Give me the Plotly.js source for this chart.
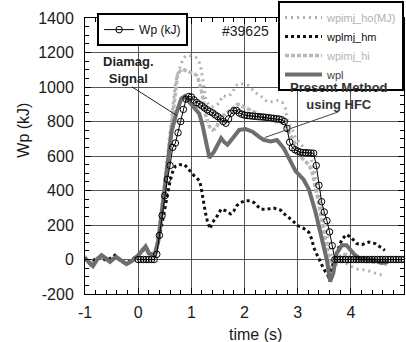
<!DOCTYPE html>
<html>
<head>
<meta charset="utf-8">
<script src="https://cdn.plot.ly/plotly-3.0.1.min.js"></script>
<style>html,body{margin:0;padding:0;background:#fff;}#chart{width:406px;height:342px;}</style>
</head>
<body>
<div id="chart"></div>
<script>
// Wp (kJ) diamagnetic signal
const wpT = [0.00,0.05,0.10,0.15,0.20,0.25,0.30,0.35,0.40,0.45,0.50,0.55,0.60,0.65,0.70,0.75,0.80,0.85,0.90,0.95,
  1.00,1.05,1.10,1.15,1.20,1.25,1.30,1.35,1.40,1.45,1.50,1.55,1.60,1.65,1.70,1.75,1.80,1.85,1.90,1.95,
  2.00,2.05,2.10,2.15,2.20,2.25,2.30,2.35,2.40,2.45,2.50,2.55,2.60,2.65,2.70,2.75,2.80,2.85,2.90,2.95,
  3.00,3.05,3.10,3.15,3.20,3.25,3.30,3.35,3.40,3.45,3.50,3.55,3.60,3.65,3.70,3.75,3.80,3.85,3.90,3.95,
  4.00,4.05,4.10,4.15,4.20,4.25,4.30,4.35,4.40,4.45,4.50,4.55,4.60,4.65,4.70,4.75,4.80,4.85,4.90,4.95,5.00];
const wpV = [0,0,0,0,0,0,0,30,140,255,370,465,545,650,675,735,800,870,930,945,
  942,925,910,900,890,878,868,858,850,838,828,815,800,790,815,848,862,864,850,842,
  837,835,833,831,830,828,827,826,824,822,820,818,816,814,810,800,760,680,648,636,
  628,622,620,619,618,617,616,545,430,335,275,225,160,80,0,0,0,0,0,0,
  0,0,0,0,0,0,0,0,0,0,0,0,0,0,0,0,0,0,0,0,0];

// wpimj_ho(MJ)
const hoT = [-1.0,-0.9,-0.8,-0.7,-0.6,-0.5,-0.4,-0.3,-0.2,-0.1,0.0,0.1,0.2,0.3,0.35,0.4,0.45,0.5,0.55,0.6,0.65,0.7,0.75,0.8,0.84,0.89,0.96,1.03,1.09,1.15,1.18,1.21,1.24,1.27,1.32,1.38,1.45,1.52,1.59,1.65,1.71,1.77,1.83,1.9,1.96,2.02,2.08,2.15,2.22,2.3,2.36,2.43,2.52,2.61,2.71,2.77,2.8,2.86,2.92,2.96,3.02,3.1,3.17,3.23,3.3,3.36,3.42,3.48,3.54,3.6,3.66,3.72,3.8,3.9,4.0,4.14,4.27,4.38,4.48,4.56,4.64];
const hoV = [20,-35,10,20,-10,5,15,-20,-25,0,30,70,40,30,80,190,330,470,610,760,900,1020,1080,1120,1160,1180,1182,1178,1170,1142,1110,1056,995,930,900,885,890,905,950,945,950,965,1005,1022,1018,1014,1008,985,965,950,930,913,915,922,912,874,810,775,741,703,680,655,630,600,540,440,340,250,160,70,-10,-30,-10,-20,-40,-57,-60,-70,-84,-88,-94];

// wplmj_hm
const hmT = [-1.0,-0.9,-0.8,-0.7,-0.6,-0.5,-0.44,-0.3,-0.2,-0.1,0.0,0.1,0.2,0.3,0.35,0.4,0.45,0.5,0.55,0.6,0.65,0.7,0.78,0.87,0.98,1.06,1.15,1.18,1.2,1.22,1.24,1.27,1.3,1.35,1.4,1.49,1.56,1.65,1.74,1.8,1.85,1.92,2.02,2.1,2.18,2.3,2.43,2.55,2.68,2.77,2.89,3.0,3.11,3.21,3.27,3.3,3.36,3.42,3.49,3.57,3.63,3.7,3.77,3.83,3.92,4.01,4.11,4.21,4.34,4.46,4.64];
const hmV = [10,-25,5,15,-5,10,25,-15,-20,0,25,55,35,30,70,130,210,286,374,454,510,540,550,550,512,483,458,426,387,349,298,264,225,178,215,254,292,282,264,282,311,330,340,340,330,292,292,298,286,258,229,197,181,158,115,72,30,-10,-55,-94,-60,10,70,116,145,126,92,86,101,92,53];

// wpimj_hi
const hiT = [-1.0,-0.9,-0.8,-0.7,-0.6,-0.5,-0.4,-0.3,-0.2,-0.1,0.0,0.1,0.2,0.3,0.35,0.4,0.45,0.5,0.55,0.6,0.65,0.7,0.74,0.78,0.84,0.9,0.99,1.06,1.11,1.15,1.21,1.24,1.27,1.34,1.4,1.46,1.52,1.56,1.65,1.77,1.87,2.02,2.15,2.21,2.3,2.4,2.5,2.58,2.74,2.8,2.88,2.96,3.02,3.08,3.15,3.21,3.27,3.33,3.4,3.46,3.52,3.57,3.62,3.66,3.72,3.8,3.9,4.0,4.1,4.2,4.35,4.5,4.62,4.7];
const hiV = [15,-30,5,15,-10,5,10,-15,-20,0,25,60,40,30,80,170,300,440,580,720,850,980,1070,1090,1104,1094,1085,1075,1065,1027,951,894,837,770,751,760,798,827,846,874,900,880,862,851,835,817,805,798,789,760,715,665,630,588,565,550,510,430,320,210,110,30,-40,-60,-20,20,30,10,-5,-10,-12,-15,-20,-33];

// wpl
const wplT = [-1.0,-0.92,-0.85,-0.77,-0.69,-0.6,-0.53,-0.46,-0.41,-0.32,-0.22,-0.15,-0.1,0.03,0.14,0.21,0.31,0.38,0.42,0.47,0.53,0.58,0.63,0.72,0.81,0.87,0.96,1.05,1.12,1.15,1.21,1.27,1.34,1.43,1.52,1.56,1.62,1.68,1.8,1.9,2.02,2.15,2.27,2.36,2.49,2.61,2.74,2.83,2.96,3.11,3.21,3.33,3.45,3.55,3.61,3.67,3.73,3.83,3.92,3.98,4.08,4.17,4.3,4.45,4.58,4.7];
const wplV = [6,-20,-38,0,25,5,-14,5,15,-5,-27,-15,-4,34,76,34,25,110,206,320,470,600,745,850,932,945,913,880,855,845,779,684,590,626,684,703,680,665,712,751,756,741,712,693,684,693,645,595,512,464,407,282,130,-4,-128,-80,34,82,82,63,25,6,0,-5,-20,-15];

const xTicks = [-1,0,1,2,3,4,5];
const yTicks = [-200,0,200,400,600,800,1000,1200,1400];

const FONT = 'Liberation Sans, Arial, Helvetica, sans-serif';

const traces = [
  {x: hiT, y: hiV, type:'scatter', mode:'lines', name:'<span style="color:#b4b4b4">wpimj_hi</span>',
   line:{color:'#b8b8b8', width:3.5, dash:'4px,2px'}, legend:'legend2', legendrank:3},
  {x: hoT, y: hoV, type:'scatter', mode:'lines', name:'<span style="color:#b0b0b0">wpimj_ho(MJ)</span>',
   line:{color:'#b0b0b0', width:3, dash:'2px,4px'}, legend:'legend2', legendrank:1},
  {x: hmT, y: hmV, type:'scatter', mode:'lines', name:'wplmj_hm',
   line:{color:'#111111', width:3, dash:'3px,3px'}, legend:'legend2', legendrank:2},
  {x: wplT, y: wplV, type:'scatter', mode:'lines', name:'<span style="color:#444">wpl</span>',
   line:{color:'#6e6e6e', width:4}, legend:'legend2', legendrank:4},
  {x: wpT, y: wpV, type:'scatter', mode:'lines+markers', name:'Wp (kJ)',
   line:{color:'#000', width:1}, marker:{symbol:'circle-open', size:6.5, color:'#000', line:{width:1, color:'#000'}},
   legend:'legend'}
];

const axisCommon = {
  showline:true, linecolor:'#000', linewidth:1, mirror:'ticks',
  ticks:'inside', ticklen:6, tickcolor:'#000', tickwidth:1,
  showgrid:true, gridcolor:'#555', gridwidth:1, zeroline:false,
  tickfont:{family:FONT, size:16, color:'#1a1a1a'}
};

const layout = {
  width:406, height:342,
  margin:{l:85, r:2, t:17, b:48},
  paper_bgcolor:'#fff', plot_bgcolor:'#fff',
  font:{family:FONT, color:'#1a1a1a'},
  xaxis: Object.assign({}, axisCommon, {
    range:[-1,5], tickvals:xTicks, ticktext:xTicks.map(String), ticklabelstandoff:4,
    minor:{dtick:0.2, tick0:0, ticks:'inside', ticklen:4, tickcolor:'#000', showgrid:false}
  }),
  yaxis: Object.assign({}, axisCommon, {
    range:[-200,1400], tickvals:yTicks, ticktext:yTicks.map(String), ticklabelstandoff:7,
    minor:{dtick:50, tick0:0, ticks:'inside', ticklen:4, tickcolor:'#000', showgrid:false}
  }),
  legend:{x:0.038, y:1.014, xanchor:'left', yanchor:'top', bgcolor:'#fff', bordercolor:'#000', borderwidth:2,
    font:{family:FONT, size:12, color:'#111'}, itemwidth:30, tracegroupgap:0},
  legend2:{x:0.605, y:1.058, xanchor:'left', yanchor:'top', bgcolor:'#fff', bordercolor:'#000', borderwidth:2,
    font:{family:FONT, size:11, color:'#111'}, itemwidth:37, tracegroupgap:0, traceorder:'normal'},
  showlegend:true,
  shapes:[
    {type:'line', xref:'x', yref:'y', x0:-0.117, y0:1001, x1:0.73, y1:834, line:{color:'#222', width:1}},
    {type:'line', xref:'x', yref:'y', x0:3.76, y0:855, x1:2.38, y1:707, line:{color:'#444', width:1}}
  ],
  annotations:[
    {xref:'x', yref:'y', x:2.01, y:1325, text:'#39625', showarrow:false, font:{family:FONT, size:14, color:'#222'}},
    {xref:'x', yref:'y', x:-0.19, y:1100, xanchor:'center', yanchor:'middle', text:'<b>Diamag.</b><br><b>Signal</b>', showarrow:false,
     font:{family:FONT, size:13, color:'#222'}},
    {xref:'x', yref:'y', x:3.78, y:945, xanchor:'center', yanchor:'middle', text:'<b>Present Method</b><br><b>using HFC</b>', showarrow:false,
     font:{family:FONT, size:13, color:'#333'}},
    {xref:'paper', yref:'paper', x:-0.194, y:0.592, xanchor:'center', yanchor:'middle', text:'Wp (kJ)', textangle:-90, showarrow:false,
     font:{family:FONT, size:16, color:'#1a1a1a'}},
    {xref:'paper', yref:'paper', x:0.533, y:-0.148, xanchor:'center', yanchor:'middle', text:'time (s)', showarrow:false,
     font:{family:FONT, size:16, color:'#1a1a1a'}}
  ]
};

Plotly.newPlot('chart', traces, layout, {displayModeBar:false, staticPlot:true});
</script>
</body>
</html>
